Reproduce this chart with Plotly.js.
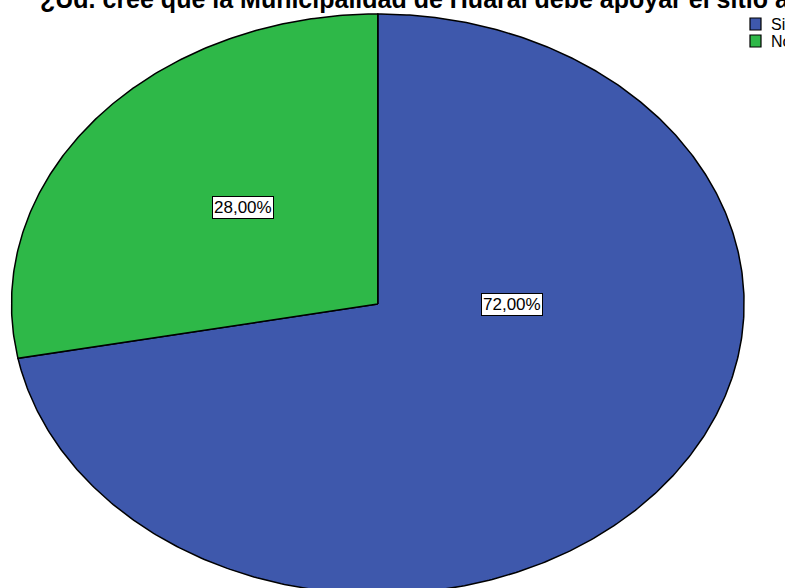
<!DOCTYPE html>
<html>
<head>
<meta charset="utf-8">
<script src="https://cdn.plot.ly/plotly-3.0.1.min.js"></script>
<style>html,body{margin:0;padding:0;background:#fff;}#chart{width:785px;height:588px;}</style>
</head>
<body>
<div id="chart"></div>
<script>
// ---- data ----
const categories = ["Si", "No"];
const percentages = [72.00, 28.00];
const sliceColors = ["#3E58AC", "#2EB848"];
const chartTitle = "¿Ud. cree que la Municipalidad de Huaral debe apoyar el sitio a";

// ---- build slices (unit circle, stretched to ellipse by axis ranges) ----
const W = 785, H = 588;
const total = percentages.reduce((a, b) => a + b, 0);
const traces = [];
let startDeg = 90; // start at 12 o'clock, go clockwise
percentages.forEach((v, i) => {
  const sweep = v / total * 360;
  const endDeg = startDeg - sweep;
  const xs = [0], ys = [0];
  const steps = Math.max(8, Math.ceil(sweep * 2));
  for (let k = 0; k <= steps; k++) {
    const t = (startDeg - sweep * k / steps) * Math.PI / 180;
    xs.push(Math.cos(t));
    ys.push(Math.sin(t));
  }
  xs.push(0); ys.push(0);
  traces.push({
    type: "scatter", mode: "lines", x: xs, y: ys, fill: "toself",
    fillcolor: sliceColors[i], line: {color: "#000", width: 1.5},
    name: categories[i], showlegend: false, hoverinfo: "skip"
  });
  startDeg = endDeg;
});

const fmt = v => v.toFixed(2).replace(".", ",") + "%";
const labelPos = [[0.365, 0.0], [-0.369, 0.334]];
const px = x => x / W;
const py = y => 1 - y / H;

const annotations = percentages.map((v, i) => ({
  x: labelPos[i][0], y: labelPos[i][1], xref: "x", yref: "y",
  text: fmt(v), showarrow: false,
  font: {family: "Liberation Sans, Arial, sans-serif", size: 17, color: "#000"},
  bgcolor: "#fff", bordercolor: "#000", borderwidth: 1, borderpad: 1
}));

annotations.push({
  x: px(38), y: py(-0.8), xref: "paper", yref: "paper", xanchor: "left", yanchor: "middle",
  text: "<b>" + chartTitle + "</b>", showarrow: false,
  font: {family: "Liberation Sans, Arial, sans-serif", size: 25, color: "#000"}
});

const shapes = [];
categories.forEach((c, i) => {
  const top = 18 + i * 17;
  shapes.push({
    type: "rect", xref: "paper", yref: "paper",
    x0: px(750), x1: px(761), y0: py(top), y1: py(top + 12),
    fillcolor: sliceColors[i], line: {color: "#000", width: 1.2}
  });
  annotations.push({
    x: px(769), y: py(top + 6), xref: "paper", yref: "paper",
    xanchor: "left", yanchor: "middle", text: c, showarrow: false,
    font: {family: "Liberation Sans, Arial, sans-serif", size: 16, color: "#000"}
  });
});

const cx = 377.8, cy = 304, rx = 366.3, ry = 290;
const layout = {
  width: W, height: H,
  margin: {l: 0, r: 0, t: 0, b: 0},
  paper_bgcolor: "#fff", plot_bgcolor: "#fff",
  xaxis: {range: [-cx / rx, (W - cx) / rx], visible: false, fixedrange: true},
  yaxis: {range: [-(H - cy) / ry, cy / ry], visible: false, fixedrange: true},
  annotations: annotations, shapes: shapes, showlegend: false
};

Plotly.newPlot("chart", traces, layout, {staticPlot: true, displayModeBar: false});
</script>
</body>
</html>
